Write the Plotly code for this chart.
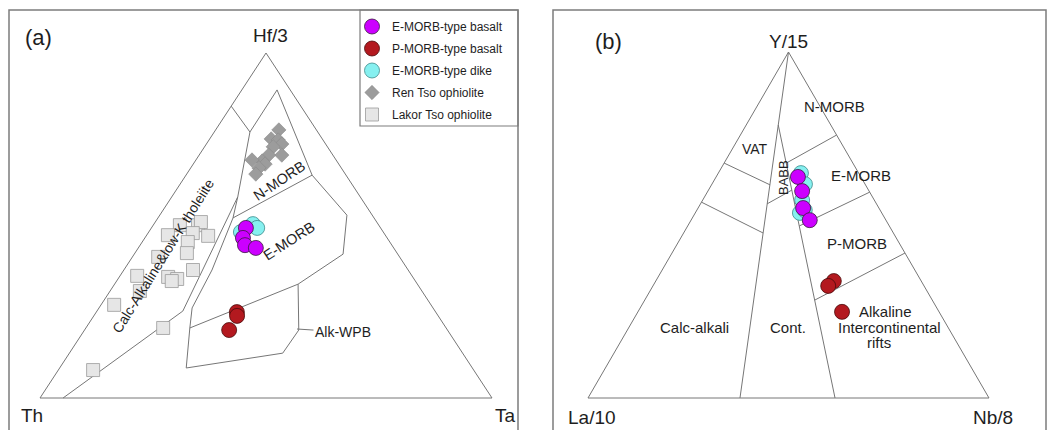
import plotly.graph_objects as go

W, H = 1050, 430
FONT = "Arial, 'Liberation Sans', sans-serif"
TXT = "#1e1e1e"
LINE = "#767676"

# ---------------- (a) Hf/3 - Th - Ta, compositions in % as (Hf/3, Th, Ta)
ren_hf = [77.7, 75.1, 74.8, 73.6, 72.8, 70.4, 70.4, 68.7, 69.0, 67.8, 66.7, 64.9]
ren_th = [8.3, 11.3, 9.9, 9.7, 12.0, 11.3, 14.2, 16.5, 18.6, 16.3, 18.2, 19.8]
ren_ta = [14.0, 13.6, 15.3, 16.7, 15.2, 18.3, 15.4, 14.8, 12.4, 15.9, 15.1, 15.3]

lakor_hf = [50.1, 50.1, 51.0, 47.2, 47.8, 47.0, 45.2, 42.0, 40.9, 37.1, 35.4, 35.1, 34.5, 33.9, 31.0, 27.0, 20.3, 8.1]
lakor_th = [44.0, 40.0, 38.9, 48.1, 42.3, 39.3, 44.7, 46.5, 53.4, 47.6, 60.8, 54.1, 52.4, 53.9, 62.4, 70.1, 62.6, 84.2]
lakor_ta = [5.9, 9.9, 10.1, 4.7, 9.9, 13.7, 10.1, 11.5, 5.7, 15.3, 3.8, 10.8, 13.1, 12.2, 6.6, 2.9, 17.1, 7.7]

emorb_basalt_hf = [49.3, 46.4, 44.3, 43.5]
emorb_basalt_th = [29.8, 31.9, 32.5, 30.5]
emorb_basalt_ta = [20.9, 21.7, 23.2, 26.0]

emorb_dike_hf = [48.1, 50.4, 49.3]
emorb_dike_th = [31.5, 27.7, 27.3]
emorb_dike_ta = [20.4, 21.9, 23.4]

pmorb_basalt_hf = [24.9, 23.8, 19.7]
pmorb_basalt_th = [44.0, 44.5, 48.3]
pmorb_basalt_ta = [31.1, 31.7, 32.0]

# field boundaries of the Hf/3-Th-Ta diagram, (Hf/3, Th, Ta)
wood_fields = [
    [(100, 0, 0), (0, 100, 0), (0, 0, 100), (100, 0, 0)],
    [(84.6, 15.4, 0), (77.1, 15.0, 7.9)],
    [(77.1, 15.0, 7.9), (58.3, 27.1, 14.6), (52.2, 31.2, 16.6), (37.1, 43.4, 19.5),
     (26.1, 53.3, 20.6), (20.3, 56.7, 23.0), (8.7, 63.3, 28.0)],
    [(58.3, 27.1, 14.6), (25.2, 55.8, 19.0), (0, 94.9, 5.1)],
    [(77.1, 15.0, 7.9), (89.3, 2.9, 7.8), (64.6, 7.5, 27.9)],
    [(64.6, 7.5, 27.9), (52.2, 31.2, 16.6)],
    [(64.6, 7.5, 27.9), (53.0, 5.6, 41.4), (41.7, 12.1, 46.2)],
    [(20.3, 56.7, 23.0), (33.0, 26.4, 40.6), (41.7, 12.1, 46.2)],
    [(8.7, 63.3, 28.0), (13.0, 39.8, 47.2), (19.7, 32.9, 47.4), (33.0, 26.4, 40.6)],
]

# ---------------- (b) Y/15 - La/10 - Nb/8, compositions in % as (Y/15, La/10, Nb/8)
b_emorb_basalt_y = [63.9, 59.8, 54.9, 51.4]
b_emorb_basalt_la = [15.7, 16.7, 18.9, 19.0]
b_emorb_basalt_nb = [20.4, 23.5, 26.2, 29.6]

b_emorb_dike_y = [65.0, 61.8, 57.2, 53.5, 54.3]
b_emorb_dike_la = [14.4, 15.0, 18.0, 20.4, 18.8]
b_emorb_dike_nb = [20.6, 23.2, 24.8, 26.1, 26.9]

b_pmorb_basalt_y = [33.8, 32.4, 24.9]
b_pmorb_basalt_la = [21.8, 23.9, 24.2]
b_pmorb_basalt_nb = [44.4, 43.7, 50.9]

cabanis_fields = [
    [(100, 0, 0), (0, 100, 0), (0, 0, 100), (100, 0, 0)],
    [(100, 0, 0), (0, 62.1, 37.9)],
    [(67.9, 32.1, 0), (61.6, 23.8, 14.6)],
    [(56.6, 43.4, 0), (47.7, 32.5, 19.8)],
    [(78.9, 13.1, 8.0), (0, 38.4, 61.6)],
    [(56.1, 27.3, 16.6), (60.1, 19.1, 20.8)],
    [(76.0, 0, 24.0), (67.9, 16.6, 15.5)],
    [(59.5, 0, 40.5), (49.7, 22.5, 27.8)],
    [(41.9, 0, 58.1), (28.3, 29.3, 42.4)],
]


def tern_xy(top, left, right):
    """Ternary composition -> (x, y) in a unit triangle with apex at (0.5, 1)."""
    xs, ys = [], []
    for a, b, c in zip(top, left, right):
        s = a + b + c
        xs.append(c / s + 0.5 * a / s)
        ys.append(a / s)
    return xs, ys


def polylines(paths):
    xs, ys = [], []
    for p in paths:
        px, py = tern_xy(*zip(*p))
        xs += px + [None]
        ys += py + [None]
    return xs, ys


fig = go.Figure()

STY = {
    "E-MORB-type basalt": dict(symbol="circle", size=15, color="#cc00ff", line=dict(color="#3a1a40", width=0.8)),
    "P-MORB-type basalt": dict(symbol="circle", size=15, color="#b3191f", line=dict(color="#4a0a0a", width=0.8)),
    "E-MORB-type dike": dict(symbol="circle", size=15, color="#86f0f0", line=dict(color="#3f8a8a", width=0.8)),
    "Ren Tso ophiolite": dict(symbol="diamond", size=11, color="#9c9c9c", line=dict(color="#8a8a8a", width=0.6)),
    "Lakor Tso ophiolite": dict(symbol="square", size=13, color="#e6e6e6", line=dict(color="#9a9a9a", width=0.8)),
}
RANK = {k: i + 1 for i, k in enumerate(STY)}


def add_points(name, top, left, right, xa, ya, legend):
    x, y = tern_xy(top, left, right)
    fig.add_trace(go.Scatter(
        x=x, y=y, mode="markers", name=name, marker=STY[name],
        xaxis=xa, yaxis=ya, showlegend=legend, legendgroup=name,
        legendrank=RANK[name], cliponaxis=False, hoverinfo="skip"))


# boundaries
for paths, xa, ya in [(wood_fields, "x", "y"), (cabanis_fields, "x2", "y2")]:
    lx, ly = polylines(paths)
    fig.add_trace(go.Scatter(x=lx, y=ly, mode="lines", line=dict(color=LINE, width=1),
                             xaxis=xa, yaxis=ya, showlegend=False, hoverinfo="skip"))

# panel (a) samples
add_points("Lakor Tso ophiolite", lakor_hf, lakor_th, lakor_ta, "x", "y", True)
add_points("Ren Tso ophiolite", ren_hf, ren_th, ren_ta, "x", "y", True)
add_points("E-MORB-type dike", emorb_dike_hf, emorb_dike_th, emorb_dike_ta, "x", "y", True)
add_points("E-MORB-type basalt", emorb_basalt_hf, emorb_basalt_th, emorb_basalt_ta, "x", "y", True)
add_points("P-MORB-type basalt", pmorb_basalt_hf, pmorb_basalt_th, pmorb_basalt_ta, "x", "y", True)

# panel (b) samples
add_points("E-MORB-type dike", b_emorb_dike_y, b_emorb_dike_la, b_emorb_dike_nb, "x2", "y2", False)
add_points("E-MORB-type basalt", b_emorb_basalt_y, b_emorb_basalt_la, b_emorb_basalt_nb, "x2", "y2", False)
add_points("P-MORB-type basalt", b_pmorb_basalt_y, b_pmorb_basalt_la, b_pmorb_basalt_nb, "x2", "y2", False)

# triangle placement on the page (pixel corners: left, right, base, apex)
PAD = 0.03


def domains(xl, xr, yb, yt):
    dx, dy = (xr - xl) * PAD, (yb - yt) * PAD
    return ([(xl - dx) / W, (xr + dx) / W], [1 - (yb + dy) / H, 1 - (yt - dy) / H])


ax_common = dict(visible=False, range=[-PAD, 1 + PAD], fixedrange=True)
dxa, dya = domains(40, 492, 398, 53)
dxb, dyb = domains(588, 989, 398, 52)

fig.update_layout(
    width=W, height=H, margin=dict(l=0, r=0, t=0, b=0),
    paper_bgcolor="white", plot_bgcolor="rgba(0,0,0,0)",
    font=dict(family=FONT, color=TXT),
    xaxis=dict(domain=dxa, **ax_common), yaxis=dict(domain=dya, **ax_common),
    xaxis2=dict(domain=dxb, **ax_common), yaxis2=dict(domain=dyb, **ax_common),
    legend=dict(x=352 / W, y=1 - 12 / H, xanchor="left", yanchor="top",
                bgcolor="rgba(0,0,0,0)", borderwidth=0, tracegroupgap=3,
                font=dict(size=12, family=FONT, color=TXT)),
    showlegend=True,
)

# frames
BOX = dict(type="rect", xref="paper", yref="paper", line=dict(color="#7c7c7c", width=1.5))
fig.add_shape(x0=9 / W, x1=518 / W, y0=1 - 445 / H, y1=1 - 10 / H, **BOX)
fig.add_shape(x0=553 / W, x1=1046 / W, y0=1 - 445 / H, y1=1 - 10 / H, **BOX)
fig.add_shape(type="rect", xref="paper", yref="paper", x0=360 / W, x1=518 / W,
              y0=1 - 126 / H, y1=1 - 10 / H, line=dict(color="#7c7c7c", width=1.2))


def label(text, px, py, size, angle=0, **kw):
    fig.add_annotation(text=text, x=px / W, y=1 - py / H, xref="paper", yref="paper",
                       showarrow=False, textangle=angle, xanchor="center", yanchor="middle",
                       font=dict(size=size, family=FONT, color=TXT), **kw)


# panel (a) text
label("(a)", 38, 38, 22)
label("Hf/3", 270, 36, 19)
label("Th", 32, 415, 19)
label("Ta", 505, 415, 19)
label("Calc-Alkaline&low-K tholeiite", 163, 256, 14, -58)
label("N-MORB", 279, 181, 14.5, -34)
label("E-MORB", 289, 241, 14.5, -33)
fig.add_annotation(text="Alk-WPB", x=297 / W, y=1 - 329 / H, xref="paper", yref="paper",
                   showarrow=True, arrowhead=0, arrowwidth=1, arrowcolor=LINE,
                   ax=46, ay=3, axref="pixel", ayref="pixel",
                   font=dict(size=14, family=FONT, color=TXT))

# panel (b) text
label("(b)", 608, 41, 22)
label("Y/15", 788, 41, 19)
label("La/10", 592, 417, 19)
label("Nb/8", 993, 417, 19)
label("VAT", 755, 149, 14)
label("BABB", 783, 178, 13, -90)
label("N-MORB", 834, 106, 15)
label("E-MORB", 861, 175, 15)
label("P-MORB", 857, 243, 15)
label("Calc-alkali", 694, 327, 15)
label("Cont.", 788, 327, 15)
label("Alkaline", 885, 311, 15)
label("Intercontinental", 889, 327, 15)
label("rifts", 879, 342, 15)

fig.write_html("out.html")
